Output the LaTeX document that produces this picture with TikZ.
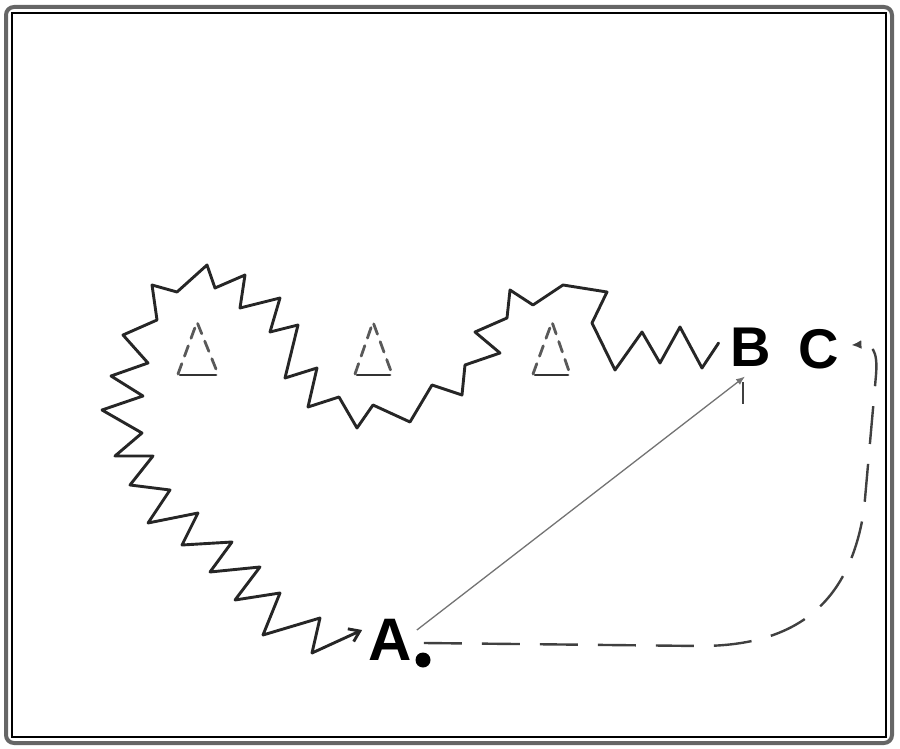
\documentclass[tikz,border=0pt]{standalone}
\usepackage{fontspec}
\setsansfont{Liberation Sans}
\usetikzlibrary{calc,arrows.meta}
\begin{document}
\begin{tikzpicture}[x=1pt,y=-1pt,
  lbl/.style={font=\sffamily\bfseries\fontsize{56}{56}\selectfont, inner sep=0pt},
  zig/.style={draw=black!85, line width=2.9pt, line join=round, line cap=round},
  tri/.style={draw=black!65, line width=2.8pt, dash pattern=on 11pt off 8pt, line cap=round},
  tribase/.style={draw=black!80, line width=2.8pt, line cap=round},
  dsh/.style={draw=black!75, line width=2.4pt, dash pattern=on 38pt off 20pt},
  thin/.style={draw=black!55, line width=1.3pt}]
\useasboundingbox (0,0) rectangle (900,749);
% frame
\draw[draw=black!60, line width=4pt, rounded corners=8pt] (6,7) rectangle (892,743);
\draw[line width=1.4pt] (12,13) rectangle (886,737);
% nodes
\node[lbl, font=\sffamily\bfseries\fontsize{60}{60}\selectfont] (A) at (390,640) {A};
\node[lbl] (B) at (751,347) {B};
\node[lbl] (C) at (819,349) {C};
\node[circle, fill=black, inner sep=0pt, minimum size=15pt] (dot) at (423,660) {};
% triangles
\draw[tri] (178,374) -- (197,322) -- (218,374);
\draw[tribase] (180,375) -- (216,375);
\draw[tri] (355,374) -- (373,322) -- (392,374);
\draw[tribase] (357,375) -- (390,375);
\draw[tri] (533,374) -- (552,322) -- (570,374);
\draw[tribase] (535,375) -- (568,375);
% zigzag from B to A
\draw[zig, -{Straight Barb[length=10pt,width=14pt]}] ($(B.west)+(-12,-4)$) -- (702,368) -- (680,327) -- (660,363) -- (642,332) -- (615,370) -- (592,323)
  -- (607,292) -- (563,285) -- (533,305) -- (510,290) -- (507,318) -- (475,332) -- (500,353)
  -- (465,365) -- (462,395) -- (432,385) -- (410,422) -- (373,405) -- (357,428) -- (339,397)
  -- (308,407) -- (317,368) -- (285,378) -- (298,325) -- (270,332) -- (280,298) -- (240,308)
  -- (245,275) -- (215,288) -- (207,265) -- (177,292) -- (152,285) -- (157,320) -- (123,335)
  -- (148,363) -- (111,376) -- (143,396) -- (102,410) -- (142,433) -- (115,456) -- (153,456)
  -- (130,485) -- (170,490) -- (148,523) -- (198,513) -- (182,545) -- (232,542) -- (210,572)
  -- (260,567) -- (235,600) -- (280,593) -- (263,635) -- (320,618) -- (312,653) -- ($(A.west)+(-6,-10)$);
% thin arrow A to B
\draw[thin, -{Latex[length=9pt,width=7pt]}] ($(A.east)+(5,-10)$) -- ($(B.south)+(-6,10)$);
\draw[draw=black!75, line width=2pt] ($(B.south)+(-8,16)$) -- ($(B.south)+(-8,38)$);
% dashed path A to C
\draw[dsh, -{Latex[length=10pt,width=9pt]}] ($(A.east)+(12,3)$) -- (700,646)
  .. controls (800,646) and (850,600) .. (864,510) -- (876,375)
  .. controls (878,350) and (872,344) .. ($(C.east)+(12,-4)$);
\end{tikzpicture}
\end{document}
